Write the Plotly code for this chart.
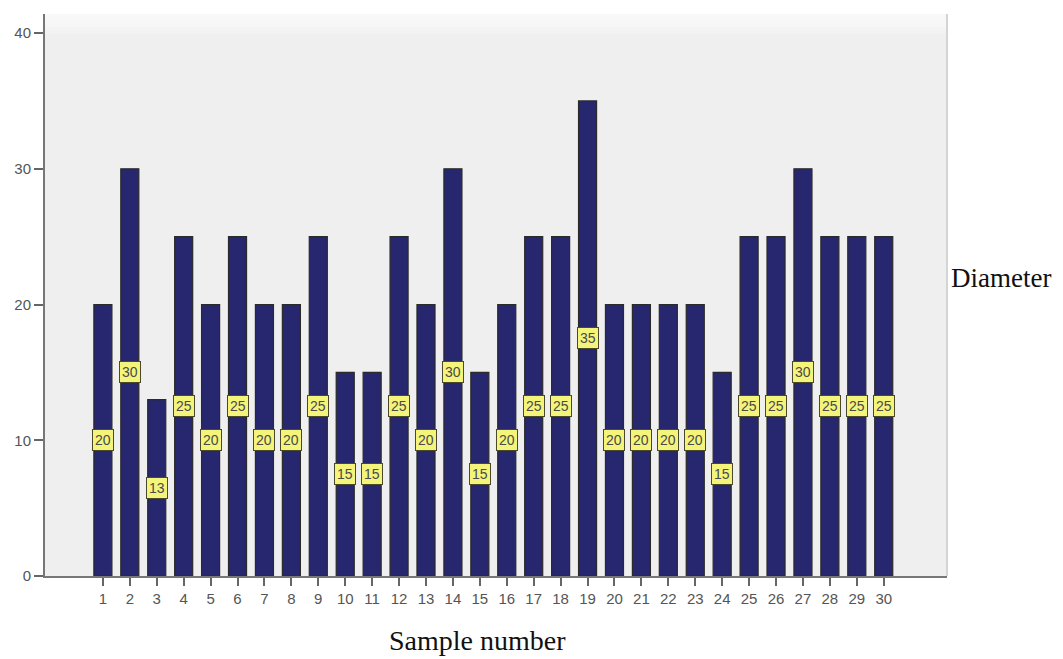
import plotly.graph_objects as go

samples = list(range(1, 31))
diameters = [20, 30, 13, 25, 20, 25, 20, 20, 25, 15, 15, 25, 20, 30, 15, 20, 25, 25, 35, 20,
             20, 20, 20, 15, 25, 25, 30, 25, 25, 25]
y_ticks = [0, 10, 20, 30, 40]

fig = go.Figure()
fig.add_trace(go.Bar(
    x=samples, y=diameters,
    marker=dict(color="#26276f", line=dict(color="#2a2a2a", width=1.2)),
    hoverinfo="skip",
))

for s, d in zip(samples, diameters):
    fig.add_annotation(
        x=s, y=d / 2, text=str(d), showarrow=False,
        font=dict(family="Liberation Sans", size=14, color="#4a4a4a"),
        bgcolor="#f4f47a", bordercolor="#4a4a2a", borderwidth=1, borderpad=2,
        xref="x", yref="y",
    )

fig.add_annotation(text="Sample number", xref="paper", yref="paper", x=0.479, y=-0.115,
                   xanchor="center", yanchor="middle", showarrow=False,
                   font=dict(family="Liberation Serif", size=28, color="#111111"))
fig.add_annotation(text="Diameter", xref="paper", yref="paper", x=1.002, y=0.53,
                   xanchor="left", yanchor="middle", showarrow=False,
                   font=dict(family="Liberation Serif", size=27, color="#111111"))

# soft white fade at the top of the plot area
for k in range(6):
    fig.add_shape(type="rect", xref="paper", yref="paper", x0=0, x1=1,
                  y0=1 - 0.006 * (k + 1), y1=1, fillcolor="white",
                  opacity=0.18, line=dict(width=0), layer="below")
# light edge on the right of the plot area
fig.add_shape(type="line", xref="paper", yref="paper", x0=1, x1=1, y0=0, y1=1,
              line=dict(color="#d4d4d4", width=2))

fig.update_layout(
    width=1055, height=651,
    margin=dict(l=37, r=116, t=6, b=83),
    paper_bgcolor="white", plot_bgcolor="#efefef",
    bargap=0.33, showlegend=False,
    xaxis=dict(range=[-1.15, 32.35], tickmode="array", tickvals=samples,
               ticktext=[str(s) for s in samples],
               ticks="outside", ticklen=8, tickcolor="#666666", tickwidth=1.5,
               showline=True, linecolor="#777777", linewidth=2, showgrid=False,
               zeroline=False,
               tickfont=dict(family="Liberation Sans", size=15, color="#555555")),
    yaxis=dict(range=[0, 41.4], tickmode="array", tickvals=y_ticks,
               ticks="outside", ticklen=9, tickcolor="#666666", tickwidth=1.5,
               showline=True, linecolor="#777777", linewidth=2, showgrid=False,
               zeroline=False,
               tickfont=dict(family="Liberation Sans", size=15, color="#555555")),
)

fig.write_html("out.html")
